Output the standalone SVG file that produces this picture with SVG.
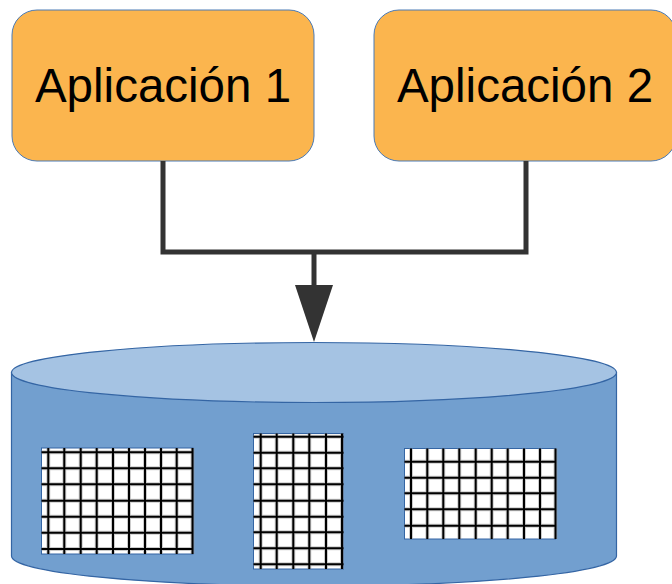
<svg xmlns="http://www.w3.org/2000/svg" width="672" height="584" viewBox="0 0 672 584">
<style>
.box{fill:#fbb54e;stroke:#4a7ab5;stroke-width:1}
.lbl{font-family:"Liberation Sans",Arial,sans-serif;font-size:47.5px;fill:#000;text-anchor:middle}
.conn{fill:none;stroke:#333333;stroke-width:5;stroke-linejoin:miter}
.body{fill:#729fcf;stroke:#3465a4;stroke-width:1.2}
.top{fill:#a5c3e3;stroke:#3465a4;stroke-width:1.2}
.gbox{fill:#ffffff;stroke:#3465a4;stroke-width:1}
.gshadow{fill:none;stroke:#9a9a9a;stroke-width:4}
.gline{fill:none;stroke:#000;stroke-width:2}
</style>
<rect width="672" height="584" fill="#ffffff"/>
<g id="app1">
<rect class="box" x="12" y="10" width="302" height="151" rx="25" ry="25"/>
<text class="lbl" x="163" y="102">Aplicación 1</text>
</g>
<g id="app2">
<rect class="box" x="374" y="10" width="302" height="151" rx="25" ry="25"/>
<text class="lbl" x="525" y="102">Aplicación 2</text>
</g>
<g id="connectors">
<path class="conn" d="M163,161 V252 H526 V161"/>
<path class="conn" d="M314,252 V286"/>
<polygon points="295,285 333,285 314,342" fill="#333333"/>
</g>
<g id="database">
<path class="body" d="M11.5,372.5 V556 A302.5,30 0 0 0 616.5,556 V372.5 Z"/>
<ellipse class="top" cx="314" cy="372.5" rx="302.5" ry="30"/>
<g id="grid1">
<rect class="gbox" x="41.5" y="448" width="151.5" height="106"/>
<path class="gshadow" d="M48.3,448V554M64.3,448V554M80.7,448V554M96.7,448V554M113,448V554M129,448V554M145,448V554M161,448V554M176.7,448V554M192.5,448V554M41.5,452.3H193M41.5,468.3H193M41.5,484.3H193M41.5,500.7H193M41.5,516.7H193M41.5,532.7H193M41.5,549H193" opacity="0.5"/>
<path class="gline" d="M48.3,448V554M64.3,448V554M80.7,448V554M96.7,448V554M113,448V554M129,448V554M145,448V554M161,448V554M176.7,448V554M192.5,448V554M41.5,452.3H193M41.5,468.3H193M41.5,484.3H193M41.5,500.7H193M41.5,516.7H193M41.5,532.7H193M41.5,549H193"/>
</g>
<g id="grid2">
<rect class="gbox" x="253.5" y="433.5" width="90" height="135.5"/>
<path class="gshadow" d="M260.7,433.5V569M276.7,433.5V569M293.3,433.5V569M309.3,433.5V569M326,433.5V569M342,433.5V569M253.5,436.7H343.5M253.5,452.7H343.5M253.5,468.3H343.5M253.5,484.3H343.5M253.5,500.7H343.5M253.5,516.7H343.5M253.5,532.3H343.5M253.5,548.3H343.5M253.5,564.3H343.5" opacity="0.5"/>
<path class="gline" d="M260.7,433.5V569M276.7,433.5V569M293.3,433.5V569M309.3,433.5V569M326,433.5V569M342,433.5V569M253.5,436.7H343.5M253.5,452.7H343.5M253.5,468.3H343.5M253.5,484.3H343.5M253.5,500.7H343.5M253.5,516.7H343.5M253.5,532.3H343.5M253.5,548.3H343.5M253.5,564.3H343.5"/>
</g>
<g id="grid3">
<rect class="gbox" x="404.5" y="448.5" width="151" height="90.5"/>
<path class="gshadow" d="M411,448.5V539M427.3,448.5V539M443.3,448.5V539M459.3,448.5V539M475.7,448.5V539M491.7,448.5V539M507.7,448.5V539M524,448.5V539M540,448.5V539M555.5,448.5V539M404.5,461.7H555.5M404.5,477.7H555.5M404.5,493.3H555.5M404.5,509.3H555.5M404.5,525.7H555.5" opacity="0.5"/>
<path class="gline" d="M411,448.5V539M427.3,448.5V539M443.3,448.5V539M459.3,448.5V539M475.7,448.5V539M491.7,448.5V539M507.7,448.5V539M524,448.5V539M540,448.5V539M555.5,448.5V539M404.5,461.7H555.5M404.5,477.7H555.5M404.5,493.3H555.5M404.5,509.3H555.5M404.5,525.7H555.5"/>
</g>
</g>
</svg>
